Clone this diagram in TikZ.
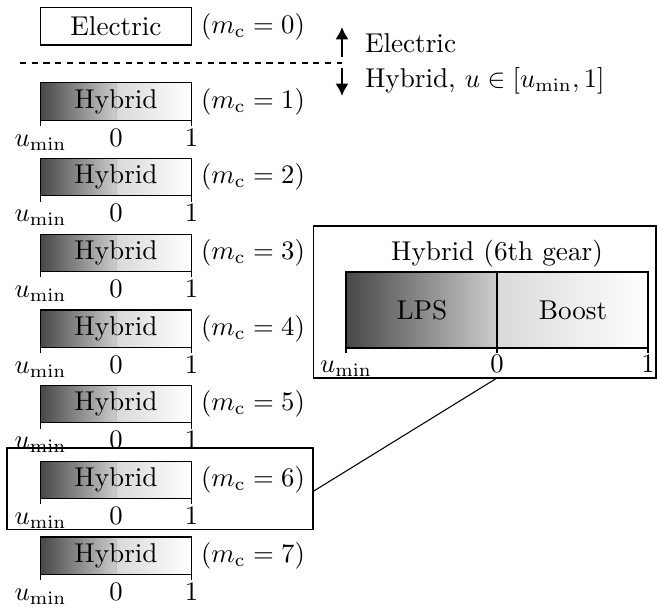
\documentclass[tikz,border=0pt]{standalone}
\usetikzlibrary{arrows.meta,calc,backgrounds}
\begin{document}
\begin{tikzpicture}[x=0.375pt,y=-0.375pt,
  every node/.style={inner sep=0pt, outer sep=0pt, font=\fontsize{10.2}{12.2}\selectfont},
  frame/.style={draw, line width=0.4pt},
  ebox/.style={frame, fill=white, minimum width=56.6pt, minimum height=13.9pt},
  hbar/.style={frame, minimum width=56.6pt, minimum height=13.9pt},
  bigbar/.style={frame, minimum width=113.25pt, minimum height=28.5pt},
  lshade/.style={left color=black!72, right color=black!20},
  rshade/.style={left color=black!15, right color=white},
  tick/.style={line width=0.4pt},
  mark arrow/.style={line width=1.1pt, -{Latex[length=4.6pt,width=5pt]}},
  sep line/.style={line width=0.4pt, dash pattern=on 2.3pt off 2.1pt},
]
\useasboundingbox (0,0) rectangle (657,606);

% electric mode
\node[ebox] (el) at (116,26.5) {Electric};
\node (m0) at (253,27) {$(m_\mathrm{c}=0)$};

% separator and legend
\coordinate (dl) at (20,63);
\coordinate (dr) at (342,63);
\draw[sep line] (dl) -- (dr);
\coordinate (ua) at (342,57);
\coordinate (ub) at (342,27);
\coordinate (da) at (342,68);
\coordinate (db) at (342,96);
\draw[mark arrow] (ua) -- (ub);
\draw[mark arrow] (da) -- (db);
\node[anchor=base west] (lgE) at (365,53) {Electric};
\node[anchor=base west] (lgH) at (365,87) {Hybrid, $u\in[u_{\min},1]$};

% hybrid gears
\foreach \k in {1,...,7} {
  \pgfmathsetmacro\yc{101.5+75.67*(\k-1)}
  \node[hbar] (b\k) at (116,\yc) {Hybrid};
  \begin{scope}[on background layer]
    \shade[lshade] (b\k.south west) rectangle (b\k.north);
    \shade[rshade] (b\k.south) rectangle (b\k.north east);
    \draw[black!25, line width=0.3pt] (b\k.south) -- (b\k.north);
  \end{scope}
  \node (m\k) at (253,\yc) {$(m_\mathrm{c}=\k)$};
  \draw[tick] (b\k.south west) -- ++(0,6);
  \draw[tick] (b\k.south east) -- ++(0,6);
  \node[anchor=base] (u\k) at ($(b\k.south west)+(0,26)$) {$u_{\min}$};
  \node[anchor=base] (z\k) at ($(b\k.south)+(0,26)$) {$0$};
  \node[anchor=base] (o\k) at ($(b\k.south east)+(0,26)$) {$1$};
}

% highlighted gear
\node[frame, minimum width=114.75pt, minimum height=30.4pt] (hl) at (160,488.5) {};

% enlarged view of the 6th gear
\node[frame, minimum width=128.6pt, minimum height=57pt] (zoombox) at (484.5,302) {};
\node[anchor=base] (ztitle) at (497,260) {Hybrid (6th gear)};
\node[bigbar] (bb) at (497,310) {};
\begin{scope}[on background layer]
  \shade[lshade] (bb.south west) rectangle (bb.north);
  \shade[rshade] (bb.south) rectangle (bb.north east);
\end{scope}
\draw[line width=0.4pt] (bb.south) -- (bb.north);
\node (lps) at (422,310) {LPS};
\node (boost) at (573,310) {Boost};
\draw[tick] (bb.south west) -- ++(0,5);
\draw[tick] (bb.south) -- ++(0,5);
\draw[tick] (bb.south east) -- ++(0,5);
\node[anchor=base] (bu) at ($(bb.south west)+(0,24)$) {$u_{\min}$};
\node[anchor=base] (bz) at ($(bb.south)+(0,24)$) {$0$};
\node[anchor=base] (bo) at ($(bb.south east)+(0,24)$) {$1$};

% connector
\coordinate (hlp) at ($(hl.east)+(0,3)$);
\coordinate (zbp) at (bb.south |- zoombox.south);
\draw[line width=0.4pt] (hlp) -- (zbp);
\end{tikzpicture}
\end{document}
